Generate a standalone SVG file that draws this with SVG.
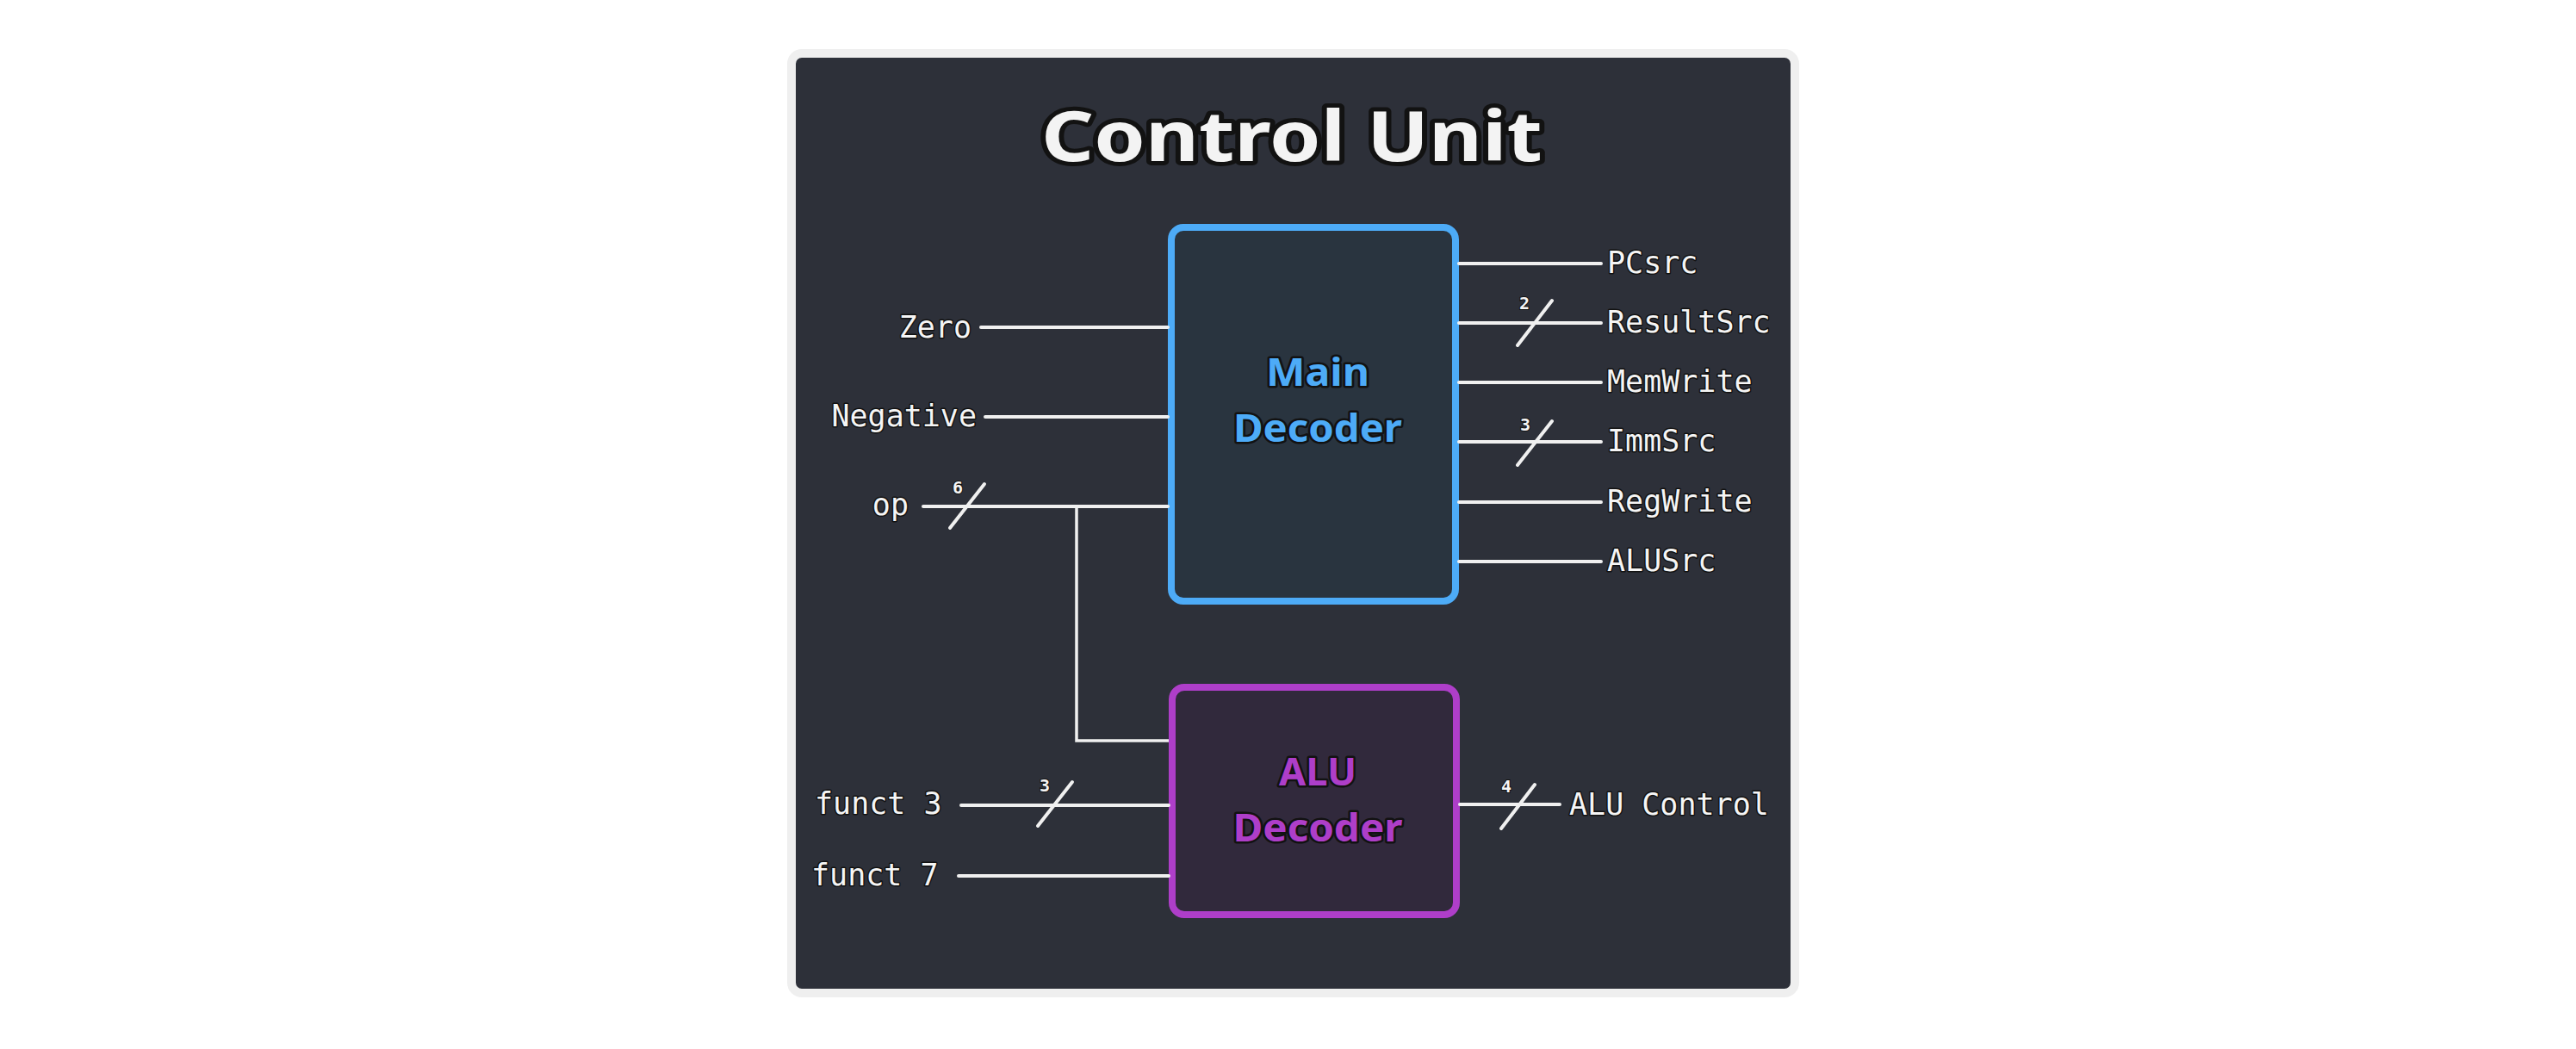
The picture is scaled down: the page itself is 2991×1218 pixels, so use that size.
<svg xmlns="http://www.w3.org/2000/svg" width="2991" height="1218" viewBox="0 0 2991 1218">
<style>
.wire{stroke:#f0f0f0;stroke-width:4;stroke-linecap:round;fill:none}
.thin{stroke:#f0f0f0;stroke-width:3.5;fill:none}
.lbl{font-family:"DejaVu Sans Mono","Liberation Mono",monospace;font-size:35px;fill:#f5f5f5;stroke:#121212;stroke-width:3;paint-order:stroke;stroke-linejoin:round}
.bw{font-family:"DejaVu Sans Mono","Liberation Mono",monospace;font-size:20px;font-weight:bold;fill:#f5f5f5;stroke:#121212;stroke-width:2;paint-order:stroke;text-anchor:middle}
.hand{font-family:"Noto Sans","Open Sans",sans-serif;font-weight:700;text-anchor:middle;stroke:#121212;paint-order:stroke;stroke-linejoin:round}
</style>
<rect x="0" y="0" width="2991" height="1218" fill="#ffffff"/>
<rect x="919" y="62" width="1165" height="1091" rx="12" fill="#2d3039" stroke="#efefef" stroke-width="10"/>
<text class="hand" x="1500" y="187" font-size="80" textLength="582" lengthAdjust="spacingAndGlyphs" fill="#f3f3f3" stroke-width="10">Control Unit</text>

<g id="main-decoder">
<rect x="1360" y="264" width="330" height="434" rx="14" fill="#29343f" stroke="#4dabf7" stroke-width="8"/>
<text class="hand" x="1530" y="448" font-size="44" textLength="120" lengthAdjust="spacingAndGlyphs" fill="#4dabf7" stroke-width="5">Main</text>
<text class="hand" x="1530" y="513" font-size="44" textLength="196" lengthAdjust="spacingAndGlyphs" fill="#4dabf7" stroke-width="5">Decoder</text>
</g>

<g id="alu-decoder">
<rect x="1361" y="798" width="330" height="264" rx="14" fill="#31293c" stroke="#ae3ec9" stroke-width="8"/>
<text class="hand" x="1530" y="912" font-size="44" textLength="90" lengthAdjust="spacingAndGlyphs" fill="#ae3ec9" stroke-width="5">ALU</text>
<text class="hand" x="1530" y="977" font-size="44" textLength="197" lengthAdjust="spacingAndGlyphs" fill="#ae3ec9" stroke-width="5">Decoder</text>
</g>

<g id="connectors">
<line class="wire" x1="1139" y1="380" x2="1356" y2="380"/>
<line class="wire" x1="1144" y1="484" x2="1356" y2="484"/>
<line class="wire" x1="1072" y1="588" x2="1356" y2="588"/>
<line class="wire" x1="1103" y1="613" x2="1143" y2="562"/>
<polyline class="thin" points="1250,588 1250,860 1357,860"/>
<line class="wire" x1="1116" y1="935" x2="1357" y2="935"/>
<line class="wire" x1="1205" y1="959" x2="1245" y2="908"/>
<line class="wire" x1="1113" y1="1017" x2="1357" y2="1017"/>

<line class="wire" x1="1694" y1="306" x2="1859" y2="306"/>
<line class="wire" x1="1694" y1="375" x2="1859" y2="375"/>
<line class="wire" x1="1762" y1="401" x2="1802" y2="349"/>
<line class="wire" x1="1694" y1="444" x2="1859" y2="444"/>
<line class="wire" x1="1694" y1="513" x2="1859" y2="513"/>
<line class="wire" x1="1762" y1="540" x2="1802" y2="489"/>
<line class="wire" x1="1694" y1="583" x2="1859" y2="583"/>
<line class="wire" x1="1694" y1="652" x2="1859" y2="652"/>

<line class="wire" x1="1695" y1="934" x2="1811" y2="934"/>
<line class="wire" x1="1743" y1="962" x2="1782" y2="911"/>
</g>

<g id="labels">
<text class="lbl" x="1128" y="392" text-anchor="end">Zero</text>
<text class="lbl" x="1134" y="495" text-anchor="end">Negative</text>
<text class="lbl" x="1055" y="598" text-anchor="end">op</text>
<text class="lbl" x="946" y="945">funct 3</text>
<text class="lbl" x="942" y="1028">funct 7</text>

<text class="lbl" x="1866" y="317">PCsrc</text>
<text class="lbl" x="1866" y="386">ResultSrc</text>
<text class="lbl" x="1866" y="455">MemWrite</text>
<text class="lbl" x="1866" y="524">ImmSrc</text>
<text class="lbl" x="1866" y="594">RegWrite</text>
<text class="lbl" x="1866" y="663">ALUSrc</text>
<text class="lbl" x="1822" y="946">ALU Control</text>

<text class="bw" x="1112" y="573">6</text>
<text class="bw" x="1770" y="359">2</text>
<text class="bw" x="1771" y="500">3</text>
<text class="bw" x="1213" y="919">3</text>
<text class="bw" x="1749" y="920">4</text>
</g>
</svg>
